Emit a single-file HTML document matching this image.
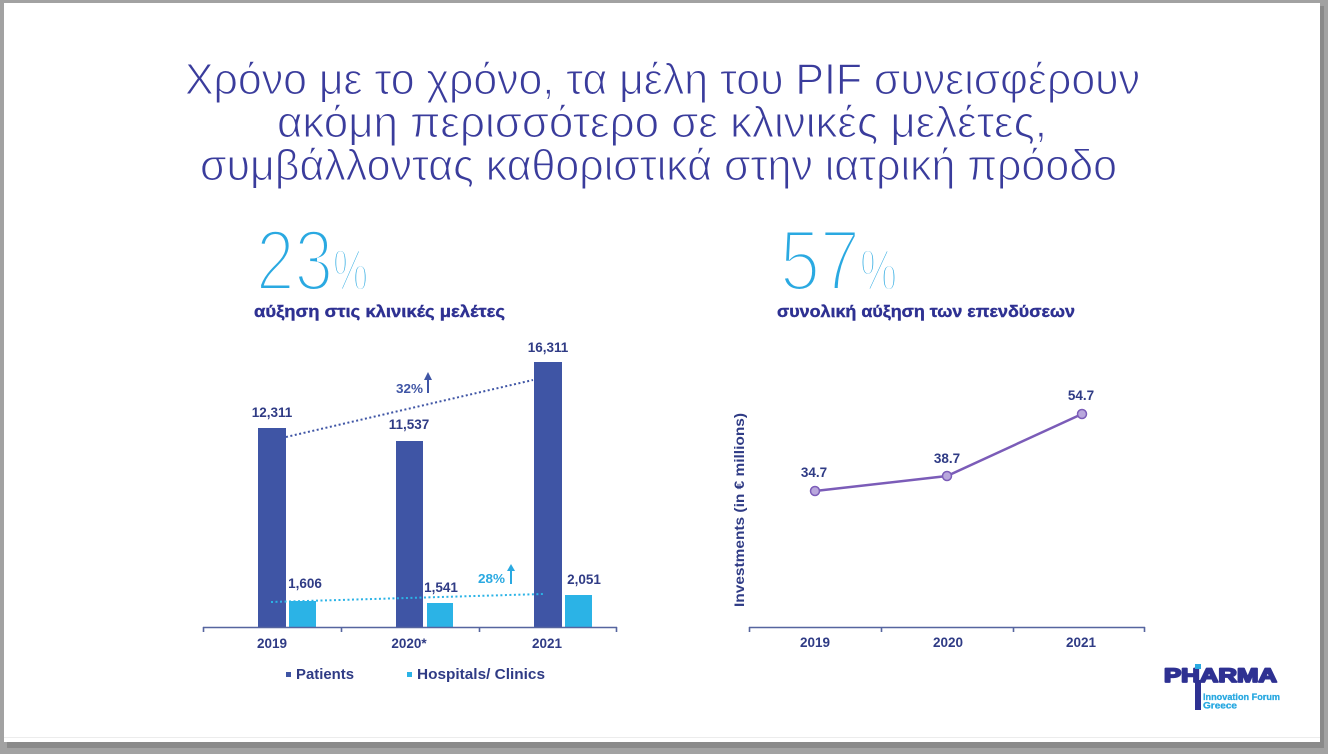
<!DOCTYPE html>
<html><head><meta charset="utf-8"><style>
html,body{margin:0;padding:0;background:#a2a2a2;}
svg{display:block;}
</style></head><body>
<svg width="1328" height="754" viewBox="0 0 1328 754" xmlns="http://www.w3.org/2000/svg" font-family="Liberation Sans, DejaVu Sans, sans-serif">
<rect x="0" y="0" width="1328" height="754" fill="#a2a2a2"/>
<rect x="7" y="6" width="1317" height="742" fill="#8a8a8a"/>
<rect x="4" y="3" width="1316" height="739" fill="#ffffff"/>
<line x1="4" y1="737.5" x2="1320" y2="737.5" stroke="#ececec" stroke-width="1"/>

<!-- Title -->
<g fill="#3a3c9c" font-size="44" stroke="#ffffff" stroke-width="1.1" paint-order="fill">
<text x="185" y="94" textLength="955" lengthAdjust="spacingAndGlyphs">Χρόνο με το χρόνο, τα μέλη του PIF συνεισφέρουν</text>
<text x="277" y="137" textLength="770" lengthAdjust="spacingAndGlyphs">ακόμη περισσότερο σε κλινικές μελέτες,</text>
<text x="200" y="180" textLength="917" lengthAdjust="spacingAndGlyphs">συμβάλλοντας καθοριστικά στην ιατρική πρόοδο</text>
</g>

<!-- Big numbers -->
<g fill="#2aa9e1" stroke="#ffffff" paint-order="fill">
<text x="256" y="290" font-size="86" stroke-width="4" textLength="77" lengthAdjust="spacingAndGlyphs">23</text>
<text x="333" y="290" font-size="58" stroke-width="3" textLength="35" lengthAdjust="spacingAndGlyphs">%</text>
<text x="780" y="290" font-size="86" stroke-width="4" textLength="80" lengthAdjust="spacingAndGlyphs">57</text>
<text x="860" y="290" font-size="58" stroke-width="3" textLength="37" lengthAdjust="spacingAndGlyphs">%</text>
</g>
<g fill="#2e3192" font-size="17" font-weight="bold" stroke="#2e3192" stroke-width="0.4">
<text x="254" y="317" textLength="251" lengthAdjust="spacingAndGlyphs">αύξηση στις κλινικές μελέτες</text>
<text x="777" y="317" textLength="298" lengthAdjust="spacingAndGlyphs">συνολική αύξηση των επενδύσεων</text>
</g>

<!-- Left chart -->
<g fill="#3f55a5">
<rect x="258" y="428" width="28" height="199"/>
<rect x="396" y="441" width="27" height="186"/>
<rect x="534" y="362" width="28" height="265"/>
</g>
<g fill="#2bb3e6">
<rect x="289" y="601" width="27" height="26"/>
<rect x="427" y="603" width="26" height="24"/>
<rect x="565" y="595" width="27" height="32"/>
</g>
<line x1="286" y1="437" x2="533" y2="380" stroke="#3f55a5" stroke-width="2" stroke-dasharray="2 2.5"/>
<line x1="271" y1="602" x2="543" y2="594" stroke="#2bb3e6" stroke-width="2" stroke-dasharray="2 2.5"/>
<g stroke="#56659f" stroke-width="1.6">
<line x1="203" y1="627.5" x2="617" y2="627.5"/>
<line x1="203.5" y1="627" x2="203.5" y2="632"/>
<line x1="341.5" y1="627" x2="341.5" y2="632"/>
<line x1="479.5" y1="627" x2="479.5" y2="632"/>
<line x1="616.5" y1="627" x2="616.5" y2="632"/>
</g>
<g fill="#2f3b85" font-size="13.5" font-weight="bold" text-anchor="middle">
<text x="272" y="417">12,311</text>
<text x="409" y="429">11,537</text>
<text x="548" y="352">16,311</text>
<text x="305" y="588">1,606</text>
<text x="441" y="592">1,541</text>
<text x="584" y="584">2,051</text>
<text x="272" y="648">2019</text>
<text x="409" y="648">2020*</text>
<text x="547" y="648">2021</text>
</g>
<text x="396" y="393" font-size="13" font-weight="bold" fill="#3f55a5" textLength="27" lengthAdjust="spacingAndGlyphs">32%</text>
<line x1="428" y1="393" x2="428" y2="378" stroke="#3f55a5" stroke-width="2"/>
<polygon points="424,380 432,380 428,372" fill="#3f55a5"/>
<text x="478" y="583" font-size="13" font-weight="bold" fill="#2aa9e1" textLength="27" lengthAdjust="spacingAndGlyphs">28%</text>
<line x1="511" y1="584" x2="511" y2="569" stroke="#2aa9e1" stroke-width="2"/>
<polygon points="507,571 515,571 511,564" fill="#2aa9e1"/>

<!-- Legend -->
<rect x="286" y="672" width="5" height="5" fill="#3f55a5"/>
<text x="296" y="679" font-size="14.5" font-weight="bold" fill="#2f3b85" textLength="58" lengthAdjust="spacingAndGlyphs">Patients</text>
<rect x="407" y="672" width="5" height="5" fill="#2bb3e6"/>
<text x="417" y="679" font-size="14.5" font-weight="bold" fill="#2f3b85" textLength="128" lengthAdjust="spacingAndGlyphs">Hospitals/ Clinics</text>

<!-- Right chart -->
<g stroke="#56659f" stroke-width="1.6">
<line x1="749" y1="627.5" x2="1145" y2="627.5"/>
<line x1="749.5" y1="627" x2="749.5" y2="632"/>
<line x1="881.5" y1="627" x2="881.5" y2="632"/>
<line x1="1013.5" y1="627" x2="1013.5" y2="632"/>
<line x1="1144.5" y1="627" x2="1144.5" y2="632"/>
</g>
<polyline points="815,491 947,476 1082,414" fill="none" stroke="#7b5cb8" stroke-width="2.5"/>
<g fill="#b9a7dc" stroke="#7b5cb8" stroke-width="1.5">
<circle cx="815" cy="491" r="4.5"/>
<circle cx="947" cy="476" r="4.5"/>
<circle cx="1082" cy="414" r="4.5"/>
</g>
<g fill="#2f3b85" font-size="13.5" font-weight="bold" text-anchor="middle">
<text x="814" y="477">34.7</text>
<text x="947" y="463">38.7</text>
<text x="1081" y="400">54.7</text>
<text x="815" y="647">2019</text>
<text x="948" y="647">2020</text>
<text x="1081" y="647">2021</text>
</g>
<text transform="translate(744,510) rotate(-90)" text-anchor="middle" font-size="13.5" font-weight="bold" fill="#2f3b85" textLength="194" lengthAdjust="spacingAndGlyphs">Investments (in € millions)</text>

<!-- Logo -->
<text x="1164" y="682" font-size="19.5" font-weight="bold" fill="#2e3192" stroke="#2e3192" stroke-width="1.8" stroke-linejoin="round" textLength="113" lengthAdjust="spacingAndGlyphs">PHARMA</text>
<rect x="1195" y="680" width="6" height="30" fill="#2e3192"/>
<rect x="1195" y="664" width="6" height="5" fill="#2aa9e1"/>
<text x="1203" y="700" font-size="9.5" font-weight="bold" fill="#2aa9e1" stroke="#2aa9e1" stroke-width="0.3" textLength="77" lengthAdjust="spacingAndGlyphs">Innovation Forum</text>
<text x="1203" y="708.5" font-size="9" font-weight="bold" fill="#2aa9e1" stroke="#2aa9e1" stroke-width="0.3" textLength="34" lengthAdjust="spacingAndGlyphs">Greece</text>
</svg>
</body></html>
